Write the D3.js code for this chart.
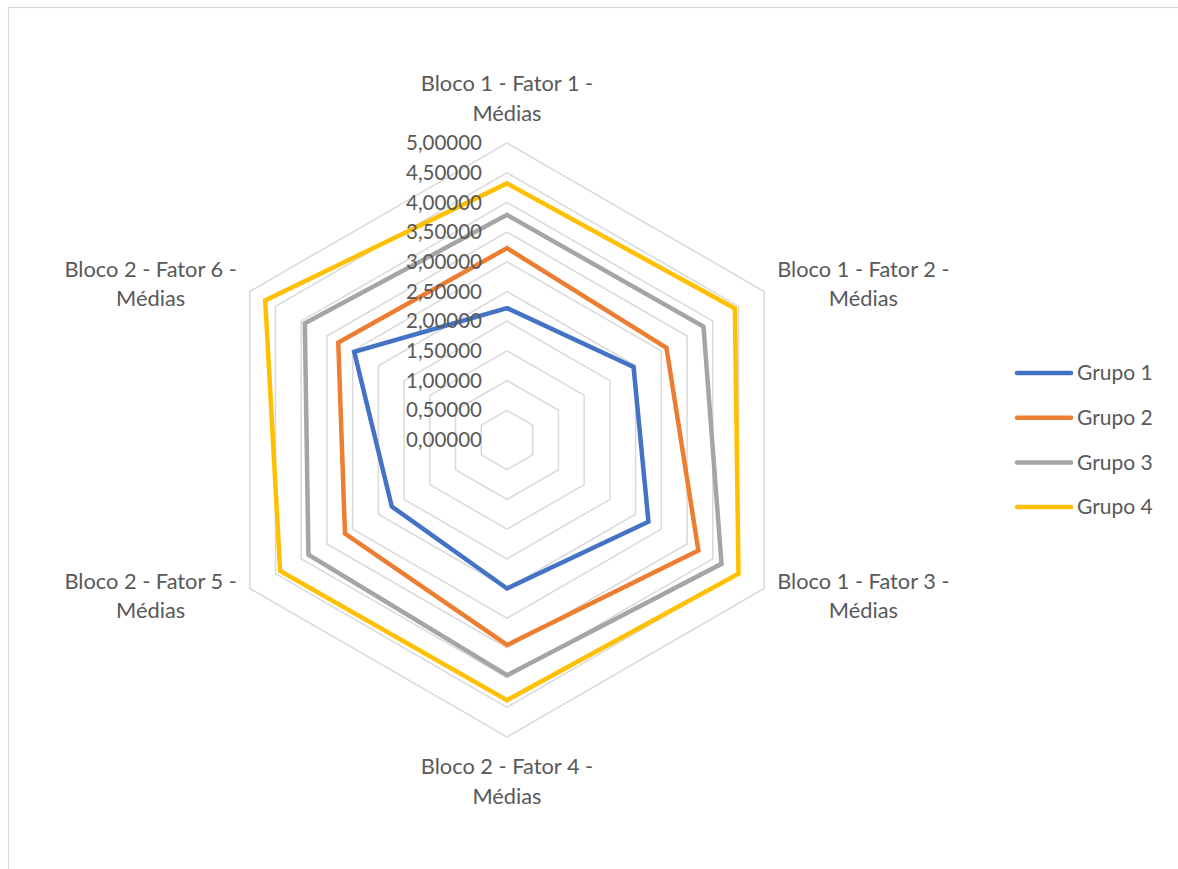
<!DOCTYPE html>
<html>
<head>
<meta charset="utf-8">
<script src="https://cdn.jsdelivr.net/npm/d3@7"></script>
<style>
  html, body { margin: 0; padding: 0; background: #fff; }
  svg { display: block; }
  text { font-family: Lato, "Open Sans", sans-serif; fill: #595959; }
</style>
</head>
<body>
<svg id="chart" width="1178" height="869"></svg>
<script>
// Radar axes (one per factor mean)
const axes = [
  ["Bloco 1 - Fator 1 -", "Médias"],
  ["Bloco 1 - Fator 2 -", "Médias"],
  ["Bloco 1 - Fator 3 -", "Médias"],
  ["Bloco 2 - Fator 4 -", "Médias"],
  ["Bloco 2 - Fator 5 -", "Médias"],
  ["Bloco 2 - Fator 6 -", "Médias"]
];

// Group means, in axis order
const grupo1 = [2.22, 2.46, 2.75, 2.50, 2.24, 2.97];
const grupo2 = [3.23, 3.10, 3.72, 3.45, 3.15, 3.28];
const grupo3 = [3.79, 3.82, 4.17, 3.96, 3.86, 3.93];
const grupo4 = [4.32, 4.43, 4.50, 4.38, 4.41, 4.70];

const seriesNames = ["Grupo 1", "Grupo 2", "Grupo 3", "Grupo 4"];
const seriesValues = [grupo1, grupo2, grupo3, grupo4];
const seriesColors = ["#4472C4", "#ED7D31", "#A5A5A5", "#FFC000"];

// Radial tick values
const tickValues = [0, 0.5, 1, 1.5, 2, 2.5, 3, 3.5, 4, 4.5, 5];

const svg = d3.select("#chart");
const cx = 507, cy = 440, R = 297;

const r = d3.scaleLinear().domain([0, 5]).range([0, R]);
const angle = d3.scaleLinear().domain([0, axes.length]).range([0, 2 * Math.PI]);

const ptBr = d3.formatLocale({ decimal: ",", thousands: ".", grouping: [3], currency: ["R$", ""] });
const fmt = ptBr.format(".5f");

// Chart-area border
svg.append("rect")
  .attr("x", 8.5).attr("y", 7.5)
  .attr("width", 1200).attr("height", 900)
  .attr("fill", "none").attr("stroke", "#d9d9d9").attr("stroke-width", 1.2);

const g = svg.append("g").attr("transform", `translate(${cx},${cy})`);

const radial = d3.lineRadial()
  .angle((d, i) => angle(i))
  .radius(d => r(d))
  .curve(d3.curveLinearClosed);

// Hexagonal grid rings
g.append("g").selectAll("path")
  .data(tickValues.filter(v => v > 0))
  .join("path")
  .attr("d", v => radial(axes.map(() => v)))
  .attr("fill", "none")
  .attr("stroke", "#d9d9d9")
  .attr("stroke-width", 1.5);

// Series polygons
g.append("g").selectAll("path")
  .data(seriesValues)
  .join("path")
  .attr("d", d => radial(d))
  .attr("fill", "none")
  .attr("stroke", (d, i) => seriesColors[i])
  .attr("stroke-width", 4.5)
  .attr("stroke-linejoin", "miter");

// Axis category labels
const labelR = R + 15;
const lineH = 29.5;
const fs = 21.8;
axes.forEach((lines, i) => {
  const a = angle(i);
  const x = labelR * Math.sin(a);
  const y = -labelR * Math.cos(a);
  let anchor = "middle";
  if (x > 1) anchor = "start";
  else if (x < -1) anchor = "end";
  const n = lines.length;
  let firstY;
  if (Math.abs(x) <= 1 && y < 0) firstY = y - (n - 1) * lineH - lineH / 2;
  else if (Math.abs(x) <= 1 && y > 0) firstY = y + lineH / 2;
  else firstY = y - (n - 1) * lineH / 2;
  const t = g.append("text")
    .attr("text-anchor", "middle")
    .style("font-size", fs + "px");
  lines.forEach((s, k) => {
    t.append("tspan")
      .attr("x", x)
      .attr("y", firstY + k * lineH)
      .attr("dy", "0.35em")
      .text(s);
  });
  // centre each line block over the anchor edge
  if (anchor !== "middle") {
    const w = t.node().getBBox().width;
    t.selectAll("tspan").attr("x", anchor === "start" ? x + w / 2 : x - w / 2);
  }
});

// Radial value labels
g.append("g").selectAll("text")
  .data(tickValues)
  .join("text")
  .attr("x", -25)
  .attr("y", v => -r(v))
  .attr("dy", "0.35em")
  .attr("text-anchor", "end")
  .style("font-size", "20.5px")
  .text(v => fmt(v));

// Legend
const legend = svg.append("g").attr("transform", "translate(1017,373)");
seriesNames.forEach((name, i) => {
  const row = legend.append("g").attr("transform", `translate(0,${i * 44.7})`);
  row.append("line")
    .attr("x1", 0).attr("x2", 54).attr("y1", 0).attr("y2", 0)
    .attr("stroke", seriesColors[i])
    .attr("stroke-width", 4.5)
    .attr("stroke-linecap", "round");
  row.append("text")
    .attr("x", 60).attr("y", 0).attr("dy", "0.35em")
    .style("font-size", "21px")
    .text(name);
});
</script>
</body>
</html>
